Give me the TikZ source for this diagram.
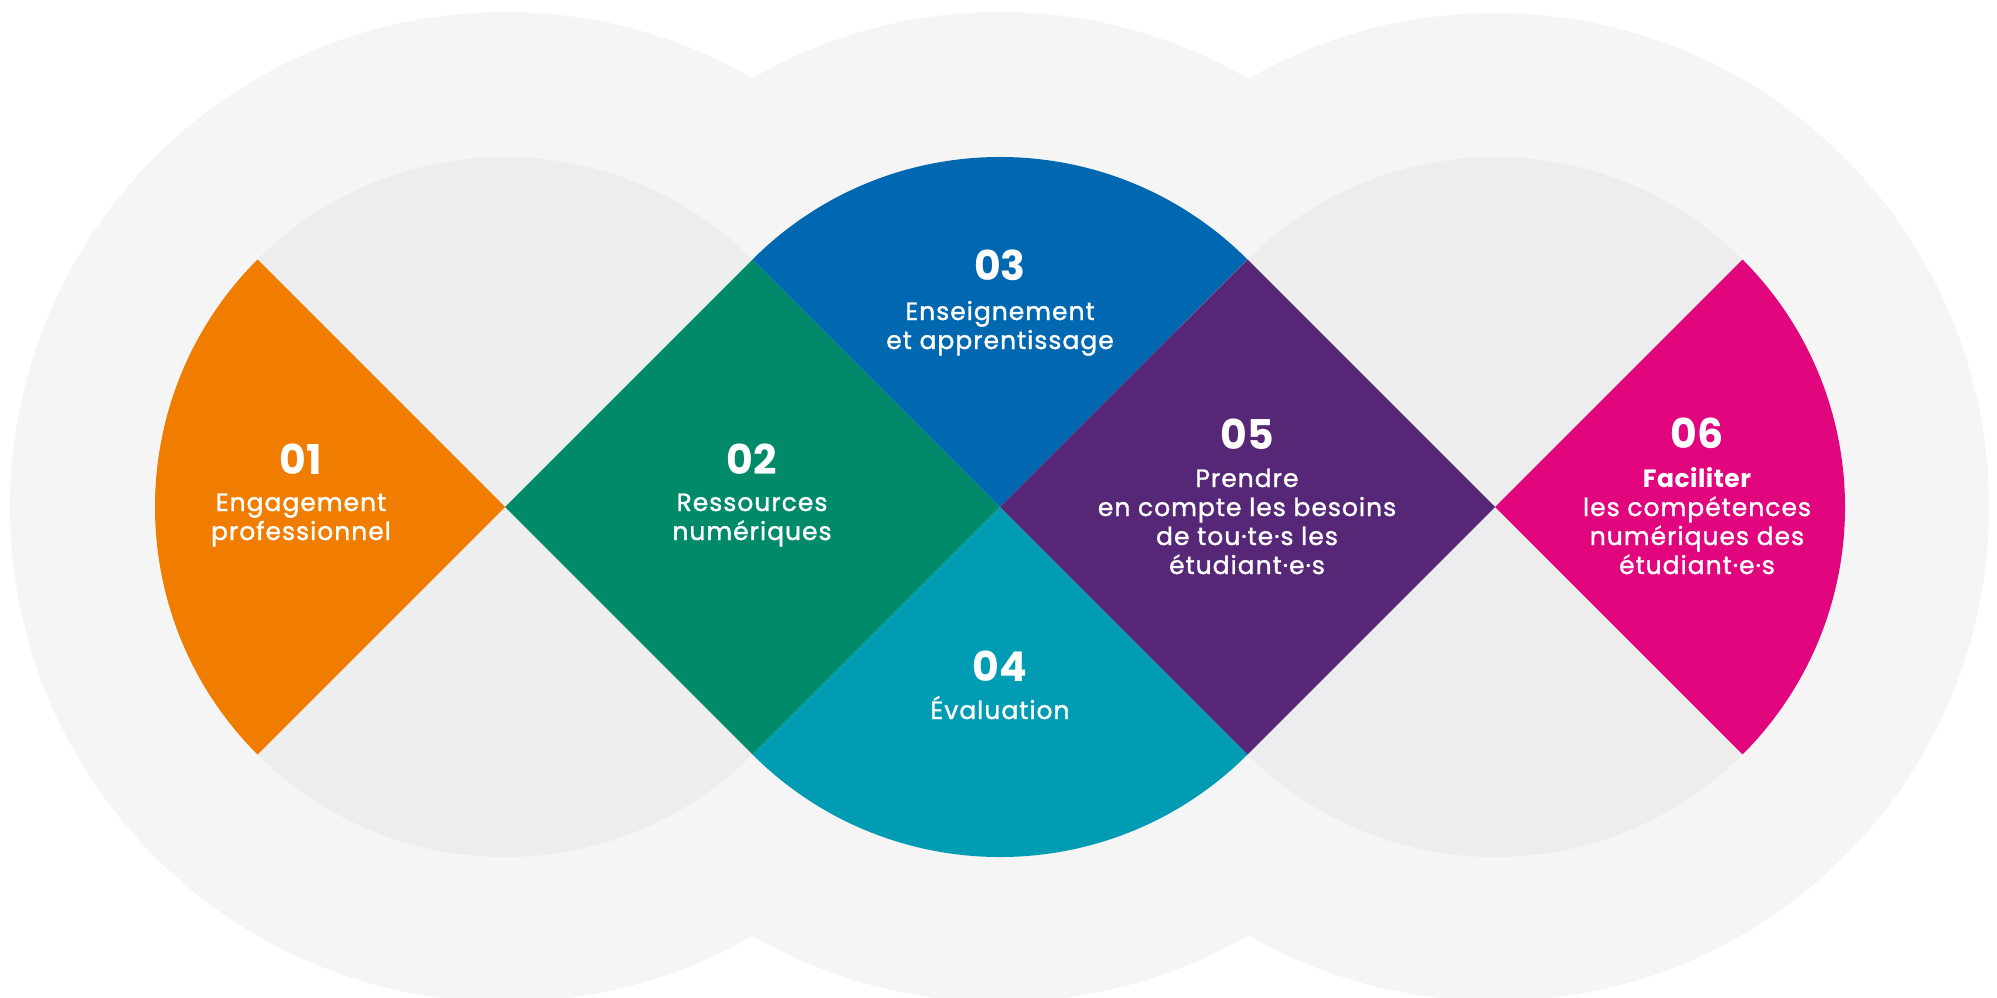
\documentclass[tikz,border=0pt]{standalone}
\usepackage{fontspec}
\setmainfont{Poppins}
\newfontfamily\lblfont{Poppins}[FakeBold=1.3,LetterSpace=4]
\newfontfamily\lblbold{Poppins Bold}[LetterSpace=2]
\definecolor{bigc}{HTML}{F5F5F5}
\definecolor{innerc}{HTML}{EDEDED}
\definecolor{c01}{HTML}{F07D00}
\definecolor{c02}{HTML}{008A6A}
\definecolor{c03}{HTML}{0067B1}
\definecolor{c04}{HTML}{009CB4}
\definecolor{c05}{HTML}{552776}
\definecolor{c06}{HTML}{E1067D}
\begin{document}
\begin{tikzpicture}[x=1pt,y=-1pt,
  num/.style={text=white,font=\fontsize{41}{41}\selectfont\bfseries,inner sep=0pt,anchor=base},
  lbl/.style={text=white,font=\lblfont\fontsize{25}{29}\selectfont,inner sep=0pt,anchor=base,align=center}]
\useasboundingbox (0,0) rectangle (1997,998);
\clip (0,0) rectangle (1997,998);
\coordinate (L) at (505,507);
\coordinate (M) at (1000,507);
\coordinate (R) at (1495,507);
\coordinate (T1) at (752.5,259.5);
\coordinate (B1) at (752.5,754.5);
\coordinate (T2) at (1247.5,259.5);
\coordinate (B2) at (1247.5,754.5);
\coordinate (T3) at (1742.5,259.5);
\fill[bigc] (L) circle[radius=495];
\fill[bigc] (M) circle[radius=495];
\fill[bigc] (R) circle[radius=494];
\fill[innerc] (L) circle[radius=350];
\fill[innerc] (M) circle[radius=350];
\fill[innerc] (R) circle[radius=350];
\fill[c01] (L) -- ++(135:350) arc[start angle=135,end angle=225,radius=350] -- cycle;
\fill[c02] (L) -- (T1) -- (M) -- (B1) -- cycle;
\fill[c03] (M) -- (T1) arc[start angle=225,end angle=315,radius=350] -- cycle;
\fill[c04] (M) -- (B2) arc[start angle=45,end angle=135,radius=350] -- cycle;
\fill[c05] (M) -- (T2) -- (R) -- (B2) -- cycle;
\fill[c06] (R) -- (T3) arc[start angle=-45,end angle=45,radius=350] -- cycle;
\node[num] (n01) at (301,474) {01};
\node[lbl] (t01) at (301,540) {Engagement\\professionnel};
\node[num] (n02) at (752,474) {02};
\node[lbl] (t02) at (752,540) {Ressources\\numériques};
\node[num] (n03) at (1000,280) {03};
\node[lbl] (t03) at (1000,349) {Enseignement\\et apprentissage};
\node[num] (n04) at (1000,681) {04};
\node[lbl] (t04) at (1000,719) {Évaluation};
\node[num] (n05) at (1247,449) {05};
\node[lbl] (t05) at (1247,574) {Prendre\\en compte les besoins\\de tou·te·s les\\étudiant·e·s};
\node[num] (n06) at (1697,448) {06};
\node[lbl] (t06) at (1697,574) {{\lblbold Faciliter}\\les compétences\\numériques des\\étudiant·e·s};
\end{tikzpicture}
\end{document}
